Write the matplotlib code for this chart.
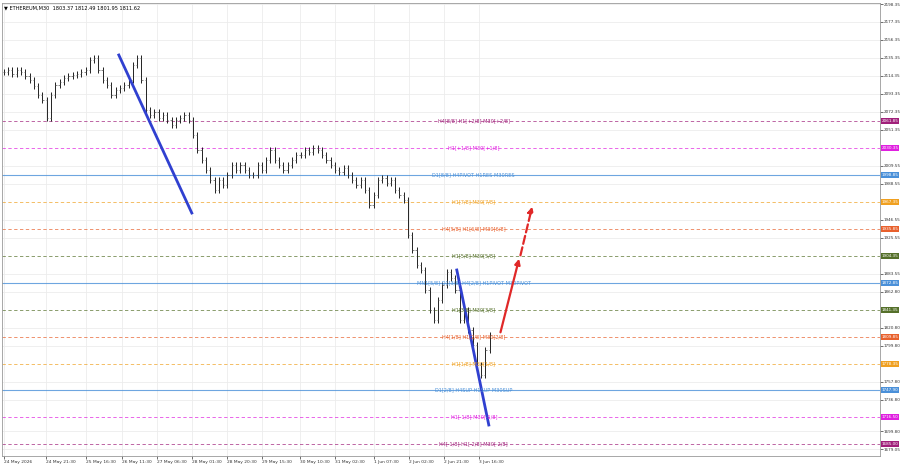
import numpy as np
import matplotlib.pyplot as plt

# price scale
def py(y):
    return 2198.35 - (y - 4) * 1.1667

# approximate close path, one value every 4 chart units
close_px = [72, 70, 74, 70, 72, 76, 80, 86, 95, 100, 118, 95, 85, 82, 78, 76, 75, 74, 72, 70,
            60, 58, 70, 80, 85, 95, 90, 88, 85, 80, 65, 58, 80, 110, 115, 112, 118, 115, 120, 125,
            120, 118, 115, 120, 135, 150, 160, 170, 180, 190, 180, 185, 175, 165, 170, 165, 170, 175, 175, 165,
            170, 160, 150, 160, 165, 170, 165, 160, 155, 155, 150, 152, 148, 150, 155, 160, 165, 170, 172, 168,
            175, 180, 185, 180, 190, 205, 195, 180, 178, 183, 180, 190, 195, 200, 235, 250, 265, 270, 290, 310,
            320, 300, 285, 272, 278, 290, 320, 310, 330, 345, 365, 375, 350, 335]
closes = [py(v) for v in close_px]
xs = np.arange(len(closes)) * 4.3

levels = [2061.85, 2030.35, 1998.85, 1967.35, 1935.85, 1904.35, 1872.85,
          1841.35, 1809.85, 1778.35, 1747.90, 1716.50, 1685.00]
level_labels = ["H4[8/8] H1[+2/8] M30[+2/8]", "H1[+1/8] M30[+1/8]", "D1[8/8] H4PIVOT H1RES M30RES",
                "H1[7/8] M30[7/8]", "H4[5/8] H1[6/8] M30[6/8]", "H1[5/8] M30[5/8]",
                "MN1[5/8] D1[3/8] H4[2/8] H1PIVOT M30PIVOT", "H1[3/8] M30[3/8]",
                "H4[1/8] H1[2/8] M30[2/8]", "H1[1/8] M30[1/8]", "D1[2/8] H4SUP H1SUP M30SUP",
                "H1[-1/8] M30[-1/8]", "H4[-1/8] H1[-2/8] M30[-2/8]"]
level_colors = ["#a0207a", "#e020e0", "#4a90d9", "#f0a020", "#e8602c", "#55702a", "#4a90d9",
                "#55702a", "#e8602c", "#f0a020", "#4a90d9", "#e020e0", "#a0207a"]
level_solid = [False, False, True, False, False, False, True, False, False, False, True, False, False]

yticks = [2198.35, 2177.35, 2156.35, 2135.35, 2114.35, 2093.35, 2072.35, 2051.35, 2009.55, 1988.55,
          1946.55, 1925.55, 1883.55, 1862.80, 1820.80, 1799.80, 1757.80, 1736.80, 1699.80, 1679.05]
xtick_pos = [0, 42, 82, 118, 153, 188, 223, 258, 296, 331, 370, 405, 440, 475]
xtick_labels = ["24 May 2026", "24 May 21:30", "25 May 16:30", "26 May 11:30", "27 May 06:30",
                "28 May 01:30", "28 May 20:30", "29 May 15:30", "30 May 10:30", "31 May 02:30",
                "1 Jun 07:30", "2 Jun 02:30", "2 Jun 21:30", "3 Jun 16:30"]

fig = plt.figure(figsize=(9, 4.74), dpi=100)
ax = fig.add_axes([0.002, 18 / 474, 878 / 900, 453 / 474])
ax.set_xlim(-2, 876)
ax.set_ylim(py(456), py(3))

for t in xtick_pos:
    ax.axvline(t, color="#ececec", lw=0.6, zorder=0)
for t in yticks:
    ax.axhline(t, color="#ececec", lw=0.6, zorder=0)

# bars
prev = closes[0]
for x, c in zip(xs, closes):
    o = prev
    hi, lo = max(o, c) + 4, min(o, c) - 4
    ax.vlines(x, lo, hi, color="#222222", lw=0.7)
    ax.hlines(o, x - 1.2, x, color="#555555", lw=0.5)
    ax.hlines(c, x, x + 1.2, color="#555555", lw=0.5)
    prev = c

for lv, lab, col, solid in zip(levels, level_labels, level_colors, level_solid):
    ax.axhline(lv, color=col, lw=0.8 if solid else 0.6, ls="-" if solid else (0, (4, 3)),
               alpha=0.8, zorder=1)
    ax.text(470, lv, lab, color=col, fontsize=3.6, ha="center", va="center", zorder=3)
    ax.text(1.002, lv, "%.2f" % lv, transform=ax.get_yaxis_transform(), fontsize=3.0,
            color="white", va="center", ha="left", clip_on=False,
            bbox=dict(boxstyle="square,pad=0.2", fc=col, ec="none"))

# trend lines
ax.plot([115, 188], [py(55), py(213)], color="#3040d0", lw=2)
ax.plot([453, 485], [py(270), py(425)], color="#3040d0", lw=2)
ax.annotate("", xy=(516, py(256)), xytext=(496, py(335)),
            arrowprops=dict(arrowstyle="-|>", color="#e02828", lw=1.6, mutation_scale=8))
ax.annotate("", xy=(529, py(204)), xytext=(516, py(258)),
            arrowprops=dict(arrowstyle="-|>", color="#e02828", lw=1.6, ls="--", mutation_scale=8))

ax.yaxis.tick_right()
ax.set_yticks(yticks)
ax.set_yticklabels(["%.2f" % t for t in yticks], fontsize=3.0)
ax.set_xticks(xtick_pos)
ax.set_xticklabels(xtick_labels, fontsize=3.2, ha="left")
ax.tick_params(length=2, width=0.5, pad=1, colors="#333333")
for s in ax.spines.values():
    s.set_color("#999999")
    s.set_linewidth(0.6)

ax.text(0.003, 0.995, "▼ ETHEREUM,M30  1803.37 1812.49 1801.95 1811.62", transform=ax.transAxes,
        fontsize=3.6, va="top", ha="left")

fig.savefig("out.png", dpi=100)
